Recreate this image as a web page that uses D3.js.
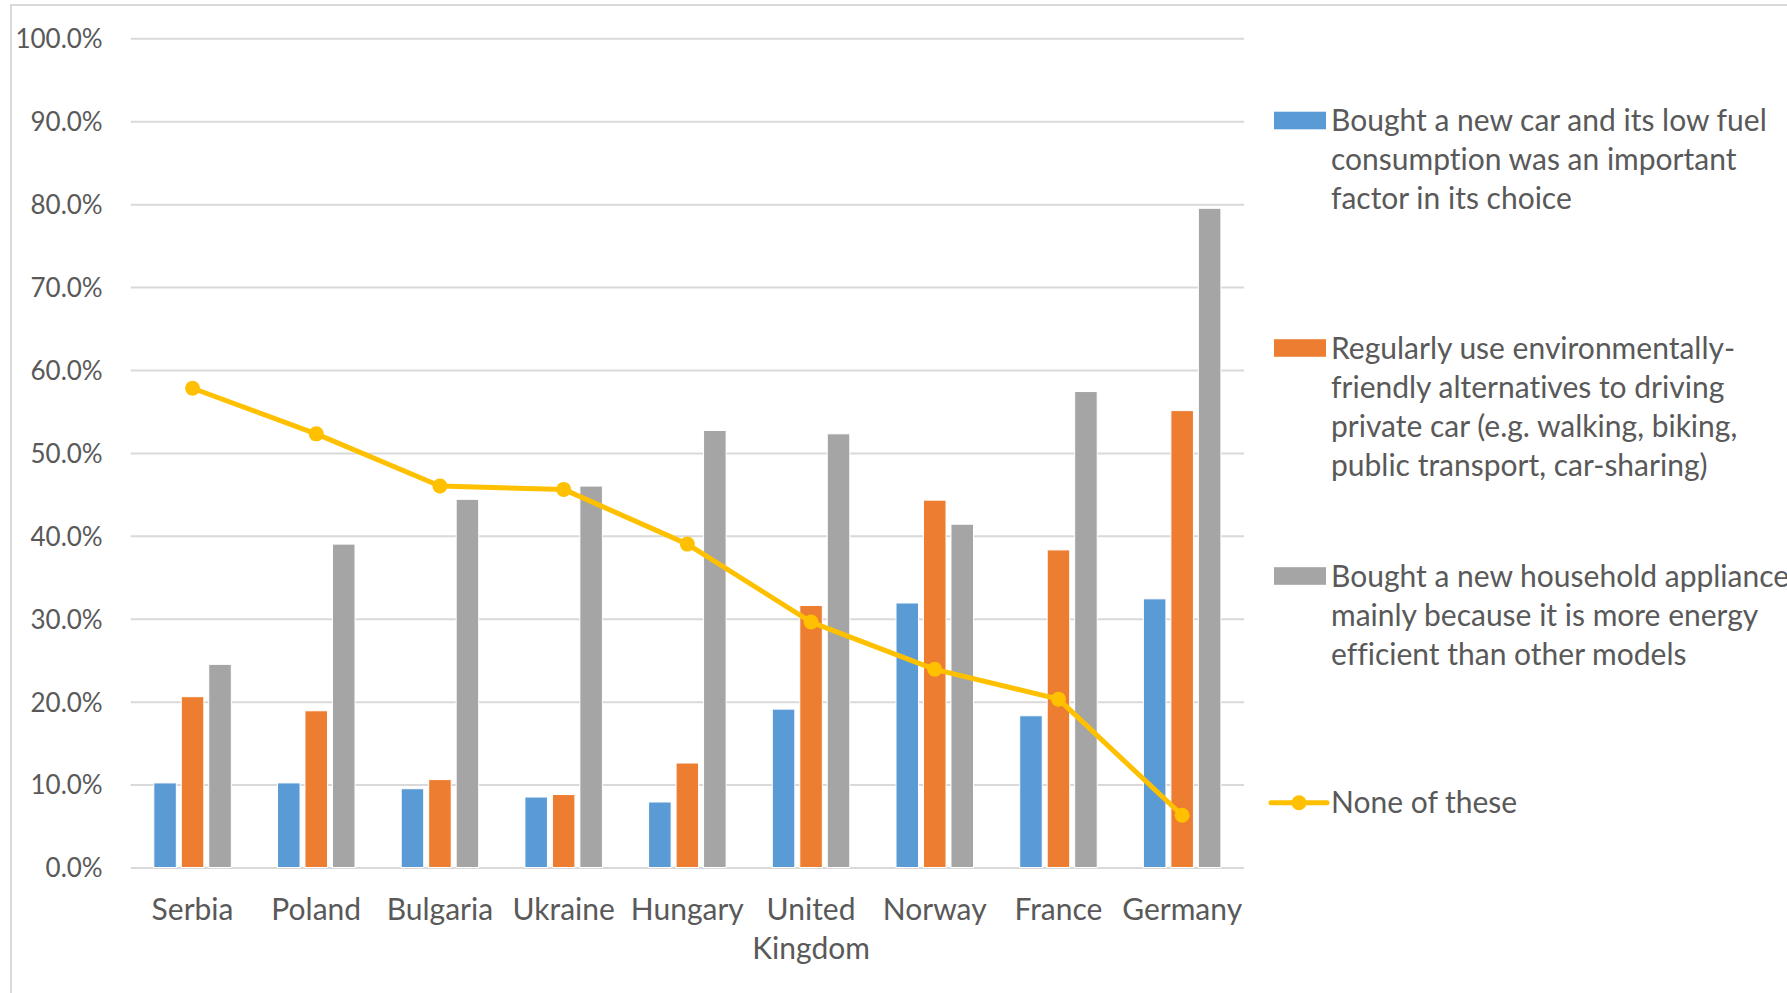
<!DOCTYPE html>
<html>
<head>
<meta charset="utf-8">
<script src="https://cdn.jsdelivr.net/npm/d3@7"></script>
<style>
  html, body { margin: 0; padding: 0; background: #fff; overflow: hidden; }
  svg { display: block; }
  text { font-family: Lato, "Open Sans", sans-serif; fill: #595959; font-variant-ligatures: none; font-feature-settings: "liga" 0, "clig" 0; }
</style>
</head>
<body>
<svg id="chart" width="1787" height="993"></svg>
<script>
// ---- Data ----
const categories = ["Serbia", "Poland", "Bulgaria", "Ukraine", "Hungary", "United Kingdom", "Norway", "France", "Germany"];
const categoryLines = [["Serbia"], ["Poland"], ["Bulgaria"], ["Ukraine"], ["Hungary"], ["United", "Kingdom"], ["Norway"], ["France"], ["Germany"]];
const seriesNames = ["car", "alt", "appliance"];
const carValues = [10.2, 10.2, 9.5, 8.5, 7.9, 19.1, 31.9, 18.3, 32.4];
const altValues = [20.6, 18.9, 10.6, 8.8, 12.6, 31.6, 44.3, 38.3, 55.1];
const applianceValues = [24.5, 39.0, 44.4, 46.0, 52.7, 52.3, 41.4, 57.4, 79.5];
const noneValues = [57.8, 52.3, 46.0, 45.6, 39.0, 29.6, 23.9, 20.3, 6.3];
const yTicks = [0, 10, 20, 30, 40, 50, 60, 70, 80, 90, 100];
const legendLabels = [
  ["Bought a new car and its low fuel", "consumption was an important", "factor in its choice"],
  ["Regularly use environmentally-", "friendly alternatives to driving", "private car (e.g. walking, biking,", "public transport, car-sharing)"],
  ["Bought a new household appliance", "mainly because it is more energy", "efficient than other models"],
  ["None of these"]
];
const colors = { car: "#5B9BD5", alt: "#ED7D31", appliance: "#A5A5A5", none: "#FFC000" };

// ---- Layout ----
const svg = d3.select("#chart");
const plot = { left: 130.7, right: 1244, top: 38.3, bottom: 867.5 };

// outer chart border (top & left visible, rest cut off)
svg.append("rect")
  .attr("x", 11).attr("y", 5).attr("width", 2000).attr("height", 2000)
  .attr("fill", "none").attr("stroke", "#D9D9D9").attr("stroke-width", 2);

const y = d3.scaleLinear().domain([0, 100]).range([plot.bottom, plot.top]);
const x0 = d3.scaleBand().domain(categories).range([plot.left, plot.right]).padding(0);
const bw = x0.bandwidth();
const groupW = 77.5;
const x1 = d3.scaleBand().domain(seriesNames)
  .range([(bw - groupW) / 2, (bw + groupW) / 2]).paddingInner(0.18).paddingOuter(0);

// gridlines
const yAxis = d3.axisLeft(y).tickValues(yTicks).tickSize(-(plot.right - plot.left))
  .tickFormat(d => d.toFixed(1) + "%").tickPadding(28);
const gy = svg.append("g").attr("transform", `translate(${plot.left},0)`).call(yAxis);
gy.select(".domain").remove();
gy.selectAll(".tick line").attr("stroke", "#D9D9D9").attr("stroke-width", 2);
gy.selectAll(".tick text")
  .attr("font-size", 26).attr("font-family", "Lato, sans-serif").attr("fill", "#595959")
  .attr("x", 102.7 - plot.left).attr("dy", "0.36em");

// bars
const seriesData = { car: carValues, alt: altValues, appliance: applianceValues };
const groups = svg.append("g").selectAll("g").data(categories).join("g")
  .attr("transform", d => `translate(${x0(d)},0)`);
groups.selectAll("rect")
  .data((d, i) => seriesNames.map(s => ({ s, v: seriesData[s][i] })))
  .join("rect")
  .attr("x", d => x1(d.s))
  .attr("width", x1.bandwidth())
  .attr("y", d => y(d.v))
  .attr("height", d => y(0) - y(d.v))
  .attr("fill", d => colors[d.s])
  .attr("stroke", "#fff").attr("stroke-width", 1);

// line
const line = d3.line().x((d, i) => x0(categories[i]) + bw / 2).y(d => y(d));
svg.append("path").datum(noneValues)
  .attr("d", line).attr("fill", "none").attr("stroke", colors.none)
  .attr("stroke-width", 5).attr("stroke-linejoin", "round").attr("stroke-linecap", "round");
svg.append("g").selectAll("circle").data(noneValues).join("circle")
  .attr("cx", (d, i) => x0(categories[i]) + bw / 2)
  .attr("cy", d => y(d)).attr("r", 7.5).attr("fill", colors.none);

// x labels
const xl = svg.append("g").selectAll("text").data(categoryLines).join("text")
  .attr("text-anchor", "middle").attr("font-size", 30)
  .attr("x", (d, i) => x0(categories[i]) + bw / 2).attr("y", 919.5);
xl.selectAll("tspan").data(d => d).join("tspan")
  .attr("x", function () { return d3.select(this.parentNode).attr("x"); })
  .attr("dy", (d, i) => i === 0 ? 0 : 39)
  .text(d => d);

// legend
const legendX = 1274, legendTextX = 1331;
const legendSwatchCY = [120.5, 348, 576, 802.7];
const lg = svg.append("g");
const keys = ["car", "alt", "appliance", "none"];
keys.forEach((k, i) => {
  const cy = legendSwatchCY[i];
  if (k === "none") {
    lg.append("line").attr("x1", 1271).attr("x2", 1327).attr("y1", cy).attr("y2", cy)
      .attr("stroke", colors.none).attr("stroke-width", 5).attr("stroke-linecap", "round");
    lg.append("circle").attr("cx", 1299).attr("cy", cy).attr("r", 7.5).attr("fill", colors.none);
  } else {
    lg.append("rect").attr("x", legendX).attr("y", cy - 8.8).attr("width", 52).attr("height", 17.6)
      .attr("fill", colors[k]);
  }
  const t = lg.append("text").attr("font-size", 30).attr("x", legendTextX).attr("y", cy + 10.5);
  t.selectAll("tspan").data(legendLabels[i]).join("tspan")
    .attr("x", legendTextX).attr("dy", (d, j) => j === 0 ? 0 : 39.2).text(d => d);
});
</script>
</body>
</html>
